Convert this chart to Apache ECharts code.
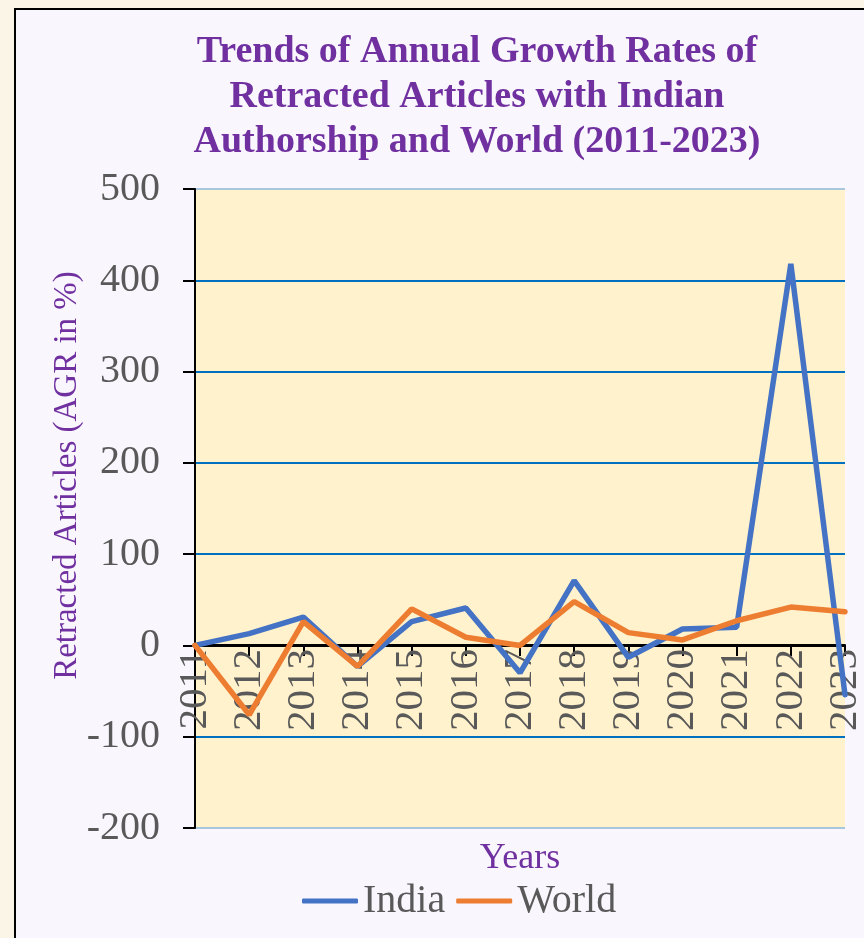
<!DOCTYPE html>
<html>
<head>
<meta charset="utf-8">
<script src="https://cdn.jsdelivr.net/npm/echarts@6/dist/echarts.min.js"></script>
<style>
	html, body {
		margin: 0;
		padding: 0;
		background: #fbf5e8;
		overflow: hidden;
	}
	.frame {
		position: absolute;
		left: 14px;
		top: 8px;
		width: 900px;
		height: 1000px;
		border: 2px solid #000;
		background: #f9f7fd;
	}
	.agrChart {
		position: absolute;
		left: 0;
		top: 0;
		width: 864px;
		height: 938px;
	}
</style>
</head>
<body>
<div class="frame"></div>
<div class="agrChart" id="agrChart"></div>
<script>
	// data
	const years = ['2011', '2012', '2013', '2014', '2015', '2016', '2017', '2018', '2019', '2020', '2021', '2022', '2023'];
	const india = [0, 13, 31, -23, 26, 41, -30, 71, -13, 18, 20, 418, -54];
	const world = [0, -76, 26, -23, 40, 9, 0, 48, 14, 6, 27, 42, 37];
	const yTicks = [-200, -100, 0, 100, 200, 300, 400, 500];

	const serif = '"Liberation Serif", "DejaVu Serif", serif';
	const purple = '#7030a0';
	const grey = '#595959';

	let myChart = echarts.init(document.getElementById('agrChart'));
	const option = {
		backgroundColor: 'transparent',
		animation: false,
		title: {
			text: 'Trends of Annual Growth Rates of\nRetracted Articles with Indian\nAuthorship and World (2011-2023)',
			left: 472,
			top: 25,
			textAlign: 'center',
			textStyle: {
				fontFamily: serif,
				fontWeight: 'bold',
				fontSize: 38,
				lineHeight: 45,
				color: purple
			}
		},
		legend: {
			data: ['India', 'World'],
			left: 297,
			top: 876,
			icon: 'roundRect',
			itemWidth: 56,
			itemHeight: 5,
			itemGap: 11,
			textStyle: {
				fontFamily: serif,
				fontSize: 40,
				color: grey
			}
		},
		grid: {
			left: 195,
			right: 19,
			top: 189,
			bottom: 110,
			containLabel: false,
			outerBoundsMode: 'none',
			show: true,
			backgroundColor: '#fff2cc',
			borderWidth: 0
		},
		xAxis: {
			type: 'category',
			boundaryGap: false,
			data: years,
			offset: -183,
			name: 'Years',
			nameLocation: 'middle',
			nameGap: 196,
			nameMoveOverlap: false,
			nameTextStyle: {
				fontFamily: serif,
				fontSize: 36,
				color: purple
			},
			axisLine: {
				onZero: false,
				lineStyle: { color: '#000', width: 2 }
			},
			axisTick: {
				show: true,
				length: 11,
				alignWithLabel: true,
				lineStyle: { color: '#000', width: 2 }
			},
			axisLabel: {
				rotate: 90,
				margin: 4,
				interval: 0,
				fontFamily: serif,
				fontSize: 41,
				color: grey
			},
			splitLine: { show: false }
		},
		yAxis: {
			type: 'value',
			min: yTicks[0],
			max: yTicks[yTicks.length - 1],
			interval: 100,
			name: 'Retracted Articles (AGR in %)',
			nameLocation: 'middle',
			nameGap: 111,
			nameMoveOverlap: false,
			nameTextStyle: {
				fontFamily: serif,
				fontSize: 33,
				color: purple,
				padding: [0, 0, 0, 66]
			},
			axisLine: {
				show: true,
				lineStyle: { color: '#000', width: 2 }
			},
			axisTick: {
				show: true,
				length: 12,
				lineStyle: { color: '#000', width: 2 }
			},
			axisLabel: {
				margin: 35,
				fontFamily: serif,
				fontSize: 40,
				color: grey
			},
			splitLine: {
				show: true,
				lineStyle: {
					color: ['#a8c6dc', '#0070c0', '#000', '#0070c0', '#0070c0', '#0070c0', '#0070c0', '#a8c6dc'],
					width: 2
				}
			}
		},
		series: [{
				name: 'India',
				type: 'line',
				data: india,
				symbol: 'none',
				zlevel: 1,
				lineStyle: { width: 5.5, color: '#4472c4', cap: 'round' },
				itemStyle: { color: '#4472c4' },
				z: 3
			},
			{
				name: 'World',
				type: 'line',
				data: world,
				symbol: 'none',
				zlevel: 1,
				lineStyle: { width: 5.5, color: '#ed7d31', cap: 'round' },
				itemStyle: { color: '#ed7d31' },
				z: 4
			}
		]
	};
	myChart.setOption(option);
</script>
</body>
</html>
